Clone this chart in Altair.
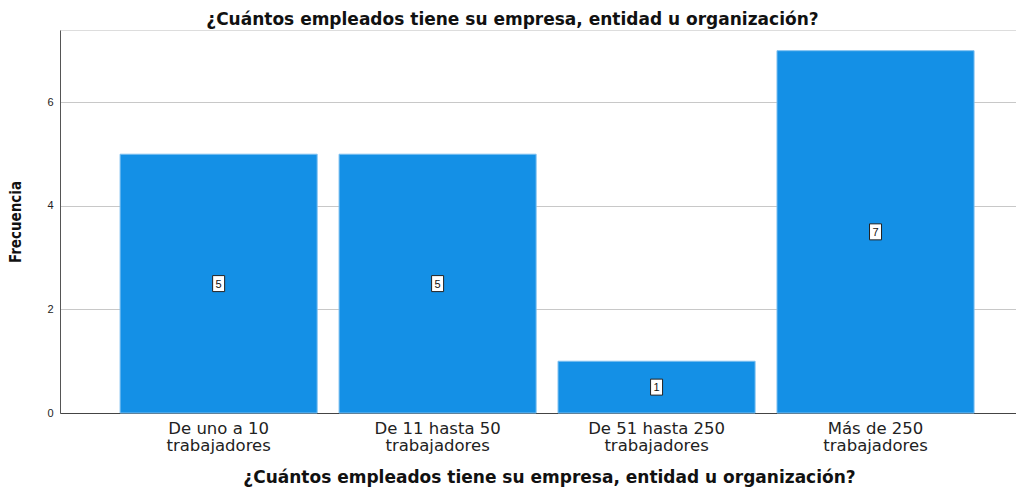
import altair as alt
import pandas as pd

categories = [
    "De uno a 10 trabajadores",
    "De 11 hasta 50 trabajadores",
    "De 51 hasta 250 trabajadores",
    "Más de 250 trabajadores",
]
frecuencias = [5, 5, 1, 7]
y_ticks = [0, 2, 4, 6]
title_text = "¿Cuántos empleados tiene su empresa, entidad u organización?"

df = pd.DataFrame({"cat": categories, "freq": frecuencias})

FONT = "DejaVu Sans"
LFONT = "Liberation Sans"

x_enc = alt.X(
    "cat:N",
    sort=categories,
    scale=alt.Scale(paddingInner=0.1, paddingOuter=0.233, align=0.589),
    axis=alt.Axis(
        title=title_text,
        labelAngle=0,
        labelExpr="[replace(datum.label, ' trabajadores', ''), 'trabajadores']",
        labelFont=FONT,
        labelFontSize=16.5,
        labelColor="#222222",
        labelLineHeight=17,
        labelPadding=7,
        ticks=False,
        domainColor="#444444",
        domainWidth=1,
        titleFont=FONT,
        titleFontSize=17,
        titleFontWeight="bold",
        titleColor="#111111",
        titlePadding=16,
        titleX=489,
        grid=False,
    ),
)

y_scale = alt.Scale(domain=[0, 7.4], nice=False)

bars = alt.Chart(df).mark_bar(
    color="#1490E6", stroke="#7DBFF0", strokeWidth=1
).encode(
    x=x_enc,
    y=alt.Y(
        "freq:Q",
        scale=y_scale,
        axis=alt.Axis(
            title="Frecuencia",
            values=y_ticks,
            labelFont=LFONT,
            labelFontSize=11,
            labelColor="#222222",
            labelPadding=7,
            ticks=False,
            domainColor="#555555",
            domainWidth=1,
            gridColor="#C8C8C8",
            gridWidth=1,
            titleFont="DejaVu Sans Condensed, Liberation Sans",
            titleFontSize=15,
            titleFontWeight="bold",
            titleColor="#111111",
            titlePadding=23,
        ),
    ),
)

boxes = alt.Chart(df).transform_calculate(mid="datum.freq / 2").mark_point(
    shape="M-0.75,-1L0.75,-1L0.75,1L-0.75,1Z",
    filled=True,
    fill="white",
    stroke="#222222",
    strokeWidth=1,
    opacity=1,
    size=256,
).encode(
    x=alt.X("cat:N", sort=categories),
    y=alt.Y("mid:Q", scale=y_scale),
)

texts = alt.Chart(df).transform_calculate(mid="datum.freq / 2").mark_text(
    font=LFONT, fontSize=11, color="#111111", baseline="middle", align="center", dy=1
).encode(
    x=alt.X("cat:N", sort=categories),
    y=alt.Y("mid:Q", scale=y_scale),
    text="freq:Q",
)

chart = alt.layer(bars, boxes, texts).properties(
    width=956,
    height=383,
    title=alt.TitleParams(
        text=title_text,
        font=FONT,
        fontSize=17,
        fontWeight="bold",
        color="#111111",
        anchor="middle",
        frame="bounds",
        offset=1,
    ),
    autosize=alt.AutoSizeParams(type="none"),
    padding={"left": 52, "top": 22, "right": 0, "bottom": 76},
).configure_view(stroke=None).configure(background="white")

chart.save("out.html", embed_options={"renderer": "svg", "actions": False})
